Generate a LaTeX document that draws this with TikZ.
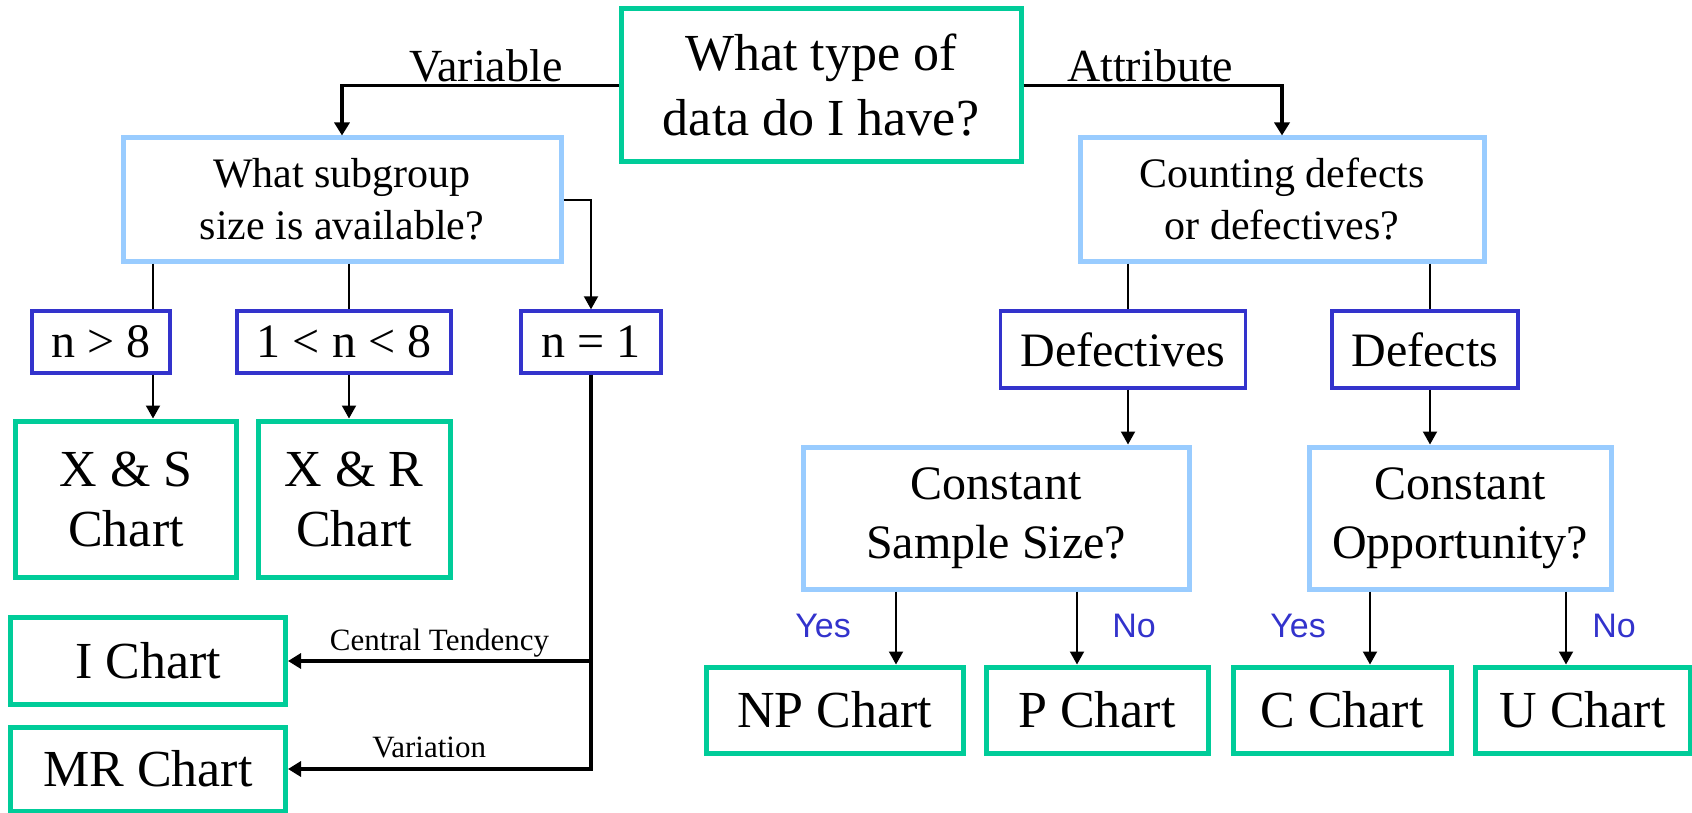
\documentclass[tikz,border=0pt]{standalone}
\usepackage{fontspec}
\setmainfont{Liberation Serif}
\newfontfamily\answersans{Liberation Sans}
\usetikzlibrary{
    arrows.meta,
    positioning,
    calc
}
\definecolor{chartgreen}{RGB}{0,204,153}
\definecolor{questionblue}{RGB}{153,204,255}
\definecolor{choiceblue}{RGB}{51,51,204}
\tikzset{
    % --- Final control chart (green box) ---
    chart/.style = {
        rectangle, draw=chartgreen, line width=2.5pt,
        inner sep=0pt, align=center,
        font=\fontsize{26}{30}\selectfont
    },
    % --- Question box (light blue) ---
    question/.style = {
        rectangle, draw=questionblue, line width=2.5pt,
        inner sep=0pt, align=center,
        font=\fontsize{21}{26}\selectfont
    },
    % --- Choice box (dark blue) ---
    choice/.style = {
        rectangle, draw=choiceblue, line width=1.7pt,
        inner sep=0pt, align=center,
        font=\fontsize{24}{28}\selectfont
    },
    % --- Plain connector ---
    link/.style = {
        line width=1pt
    },
    % --- Thin arrow ---
    flow arrow/.style = {
        -{Triangle[length=6.5pt, width=7pt]}, line width=1pt
    },
    % --- Thick arrow ---
    main arrow/.style = {
        -{Triangle[length=6.5pt, width=7.5pt]}, line width=1.7pt
    },
    % --- Data type label on the top branches ---
    branch/.style = {
        font=\fontsize{23}{26}\selectfont, inner sep=1pt
    },
    % --- Small label on the n = 1 branches ---
    side label/.style = {
        font=\fontsize{15.5}{18}\selectfont, inner sep=1pt
    },
    % --- Yes / No answer ---
    answer/.style = {
        font=\answersans\fontsize{17}{20}\selectfont,
        text=choiceblue, inner sep=0pt
    }
}
\begin{document}
\begin{tikzpicture}[x=0.5pt, y=-0.5pt]
\useasboundingbox (0,0) rectangle (1692,813);

% ---------------------------------------------------------
% Top question
% ---------------------------------------------------------
\node[chart, minimum width=200pt, minimum height=76.5pt,
    font=\fontsize{26}{32.5}\selectfont] (datatype) at (821,85.5)
    {What type of\\data do I have?};

\node[question, minimum width=219pt, minimum height=61.5pt] (subgroup) at (342,199.5)
    {What subgroup\\size is available?};
\node[question, minimum width=202pt, minimum height=61.5pt] (counting) at (1282,199.5)
    {Counting defects\\or defectives?};

\draw[main arrow] (datatype.west) -| (subgroup.north)
    node[branch, pos=0.24, above] {Variable};
\draw[main arrow] (datatype.east) -| (counting.north)
    node[branch, pos=0.245, above] {Attribute};

% ---------------------------------------------------------
% Variable data: subgroup size
% ---------------------------------------------------------
\coordinate (xsLine) at (153,0);
\coordinate (xrLine) at (349,0);

\node[choice, minimum width=69pt, minimum height=31pt] (nbig) at (101,342) {n > 8};
\node[choice, minimum width=107pt, minimum height=31pt] (nmid) at (344,342) {1 < n < 8};
\node[choice, minimum width=70pt, minimum height=31pt] (none) at (591,342) {n = 1};

\draw[link] (subgroup.south -| xsLine) -- (nbig.north -| xsLine);
\draw[link] (subgroup.south -| xrLine) -- (nmid.north -| xrLine);
\draw[flow arrow] (subgroup.east) -| (none.north);

\node[chart, minimum width=110.5pt, minimum height=78pt] (xschart) at (126,499)
    {X \& S\\Chart};
\node[chart, minimum width=96pt, minimum height=78pt] (xrchart) at (354,499)
    {X \& R\\Chart};

\draw[flow arrow] (nbig.south -| xsLine) -- (xschart.north -| xsLine);
\draw[flow arrow] (nmid.south -| xrLine) -- (xrchart.north -| xrLine);

% Individuals
\node[chart, minimum width=137.5pt, minimum height=43.5pt] (ichart) at (148,661) {I Chart};
\node[chart, minimum width=137.5pt, minimum height=42pt] (mrchart) at (148,769) {MR Chart};

\draw[main arrow] (none.south) |- (mrchart.east)
    node[side label, pos=0.767, above, yshift=3.5pt] {Variation};
\draw[main arrow] (none.south |- ichart.east) -- (ichart.east)
    node[side label, midway, above] {Central Tendency};

% ---------------------------------------------------------
% Attribute data
% ---------------------------------------------------------
\coordinate (defectivesLine) at (1128,0);
\coordinate (defectsLine) at (1430,0);

\node[choice, minimum width=122.5pt, minimum height=38.5pt] (defectives) at (1123,349.5) {Defectives};
\node[choice, minimum width=93pt, minimum height=38.5pt] (defects) at (1425,349.5) {Defects};

\draw[link] (counting.south -| defectivesLine) -- (defectives.north -| defectivesLine);
\draw[link] (counting.south -| defectsLine) -- (defects.north -| defectsLine);

\node[question, minimum width=193pt, minimum height=71pt,
    font=\fontsize{24}{29.5}\selectfont] (samplesize) at (996,518)
    {Constant\\Sample Size?};
\node[question, minimum width=151pt, minimum height=71pt,
    font=\fontsize{24}{29.5}\selectfont] (opportunity) at (1460,518)
    {Constant\\Opportunity?};

\draw[flow arrow] (defectives.south -| defectivesLine) -- (samplesize.north -| defectivesLine);
\draw[flow arrow] (defects.south -| defectsLine) -- (opportunity.north -| defectsLine);

% Charts
\coordinate (npLine) at (896,0);
\coordinate (pLine) at (1077,0);
\coordinate (cLine) at (1370,0);
\coordinate (uLine) at (1566,0);

\node[chart, minimum width=128.5pt, minimum height=43pt] (npchart) at (834.5,710) {NP Chart};
\node[chart, minimum width=111pt, minimum height=43pt] (pchart) at (1097,710) {P Chart};
\node[chart, minimum width=109pt, minimum height=43pt] (cchart) at (1342,710) {C Chart};
\node[chart, minimum width=107.5pt, minimum height=43pt] (uchart) at (1582.5,710) {U Chart};

\draw[flow arrow] (samplesize.south -| npLine) -- (npchart.north -| npLine);
\draw[flow arrow] (samplesize.south -| pLine) -- (pchart.north -| pLine);
\draw[flow arrow] (opportunity.south -| cLine) -- (cchart.north -| cLine);
\draw[flow arrow] (opportunity.south -| uLine) -- (uchart.north -| uLine);

\node[answer] (yesnp) at (823,626) {Yes};
\node[answer] (nop) at (1134,626) {No};
\node[answer] (yesc) at (1298,626) {Yes};
\node[answer] (nou) at (1614,626) {No};

\end{tikzpicture}
\end{document}
